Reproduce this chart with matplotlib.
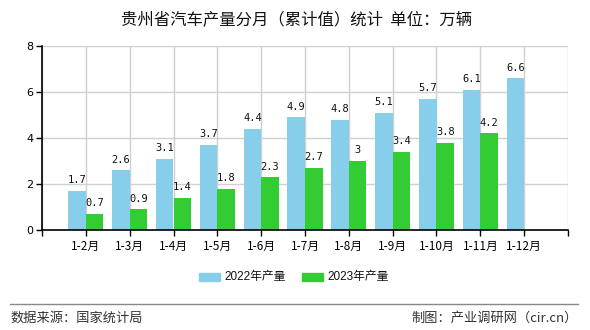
import matplotlib
matplotlib.use("Agg")
import matplotlib.pyplot as plt
from matplotlib.patches import Rectangle
from matplotlib.lines import Line2D

plt.rcParams['font.family'] = ['Noto Sans CJK SC', 'DejaVu Sans']

categories = ["1-2月", "1-3月", "1-4月", "1-5月", "1-6月", "1-7月",
              "1-8月", "1-9月", "1-10月", "1-11月", "1-12月"]
values_2022 = [1.7, 2.6, 3.1, 3.7, 4.4, 4.9, 4.8, 5.1, 5.7, 6.1, 6.6]
values_2023 = [0.7, 0.9, 1.4, 1.8, 2.3, 2.7, 3, 3.4, 3.8, 4.2, None]
labels_2022 = ["1.7", "2.6", "3.1", "3.7", "4.4", "4.9", "4.8", "5.1", "5.7", "6.1", "6.6"]
labels_2023 = ["0.7", "0.9", "1.4", "1.8", "2.3", "2.7", "3", "3.4", "3.8", "4.2", ""]
series_names = ["2022年产量", "2023年产量"]
yticks = [0, 2, 4, 6, 8]
title = "贵州省汽车产量分月（累计值）统计  单位：万辆"
source_left = "数据来源：国家统计局"
source_right = "制图：产业调研网（cir.cn）"

c22 = "#87CEEB"
c23 = "#33CC33"

fig = plt.figure(figsize=(5.9, 3.3), dpi=100)
ax = fig.add_axes([42/590, 1-230/330, (568-42)/590, (230-46)/330])

pos = list(range(1, len(categories) + 1))
w = 0.4
for i, p in enumerate(pos):
    v = values_2022[i]
    ax.bar(p - w/2, v, width=w, color=c22, zorder=2)
    ax.annotate(labels_2022[i], (p - w/2, v), xytext=(0, 4), textcoords="offset points",
                ha="center", va="bottom", fontsize=7.5, family="DejaVu Sans Mono", color="#111111")
    v2 = values_2023[i]
    if v2 is not None:
        ax.bar(p + w/2, v2, width=w, color=c23, zorder=2)
        ax.annotate(labels_2023[i], (p + w/2, v2), xytext=(0, 4), textcoords="offset points",
                    ha="center", va="bottom", fontsize=7.5, family="DejaVu Sans Mono", color="#111111")

ax.set_xlim(0, len(categories) + 1)
ax.set_ylim(0, 8)
ax.set_yticks(yticks)
ax.set_yticklabels([str(t) for t in yticks], fontsize=8, family="DejaVu Sans")
ax.set_xticks(range(0, len(categories) + 2))
ax.set_xticklabels([""] + categories + [""], fontsize=8.5)
ax.tick_params(axis="both", direction="out", length=4, width=1, color="black", pad=2)
ax.tick_params(axis="x", pad=3)
ax.grid(True, color="#d0d0d0", linewidth=1, zorder=0)
ax.set_axisbelow(True)
for s in ["top", "right"]:
    ax.spines[s].set_visible(False)
ax.spines["left"].set_linewidth(1.2)
ax.spines["bottom"].set_linewidth(1.2)

fig.text(297/590, 1-20/330, title, ha="center", va="center", fontsize=11.8, color="#111111")

# legend
legend_items = [(199, c22, series_names[0]), (302, c23, series_names[1])]
for x0, col, name in legend_items:
    fig.patches.append(Rectangle((x0/590, 1-281/330), 21/590, 8/330, transform=fig.transFigure,
                                 color=col, figure=fig))
    fig.text((x0+25)/590, 1-277/330, name, ha="left", va="center", fontsize=8.5,
             family=["Liberation Sans", "Noto Sans CJK SC"], color="#111111")

fig.lines.append(Line2D([10/590, 578/590], [1-304/330, 1-304/330], transform=fig.transFigure,
                        color="#888888", linewidth=1))
fig.text(10/590, 1-318/330, source_left, ha="left", va="center", fontsize=9.5, color="#333333")
fig.text(578/590, 1-318/330, source_right, ha="right", va="center", fontsize=9.5, color="#333333")

fig.savefig("out.png", dpi=100)
